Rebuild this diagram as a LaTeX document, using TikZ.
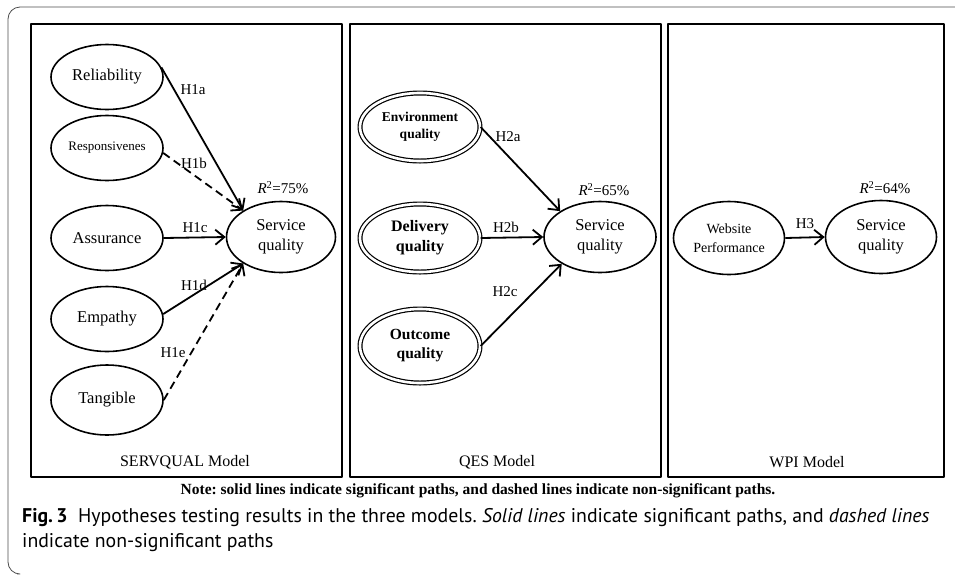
\documentclass[tikz,border=0pt]{standalone}
\usepackage{fontspec}
\setmainfont{Liberation Serif}
\newfontfamily\capfont{PT Sans}
\usetikzlibrary{shapes.geometric,arrows.meta}
\frenchspacing

\begin{document}
\begin{tikzpicture}[x=1pt, y=-1pt, line join=round, >={Straight Barb[length=9pt,width=15pt]},
  lat/.style={ellipse, draw, line width=1.6pt, minimum width=112pt, minimum height=65pt, inner sep=0pt, align=center, font=\fontsize{16.5}{20}\selectfont},
  dlat/.style={lat, double, double distance=2.6pt, line width=1.2pt, minimum width=120pt, minimum height=68pt, font=\bfseries\fontsize{15.5}{19}\selectfont},
  sig/.style={->, line width=1.8pt},
  nsig/.style={sig, dash pattern=on 8pt off 5pt},
  hyp/.style={inner sep=0pt, font=\fontsize{15}{18}\selectfont},
  panel/.style={draw, line width=1.8pt}]
\useasboundingbox (0,0) rectangle (955,574);
% journal frame
\draw[gray!60!black, line width=0.8pt, rounded corners=12pt] (955,7) -- (8,7) -- (8,574) -- (17,574);
% panels
\draw[panel] (31,24) rectangle (342,477) (350,24) rectangle (661,477) (668,24) rectangle (944,477);
\node[hyp, font=\fontsize{16}{19}\selectfont] (m1) at (185,462) {SERVQUAL Model};
\node[hyp, font=\fontsize{16}{19}\selectfont] (m2) at (497,462) {QES Model};
\node[hyp, font=\fontsize{16}{19}\selectfont] (m3) at (807,462) {WPI Model};
% SERVQUAL model
\node[lat] (rel) at (107,77) {Reliability};
\node[lat, font=\fontsize{13}{16}\selectfont] (res) at (107,148) {Responsivenes};
\node[lat] (asr) at (107,238) {Assurance};
\node[lat] (emp) at (107,319) {Empathy};
\node[lat, minimum height=70pt] (tan) at (107,400) {Tangible};
\node[lat, minimum width=109pt, minimum height=71pt] (sq1) at (281,237) {Service\\quality};
\node[hyp] (r1) at (283,188) {\textit{R}\textsuperscript{2}=75\%};
\draw[sig] (rel.10) -- (sq1.145);
\draw[nsig] (res.-5) -- (sq1.145);
\draw[sig] (asr.east) -- (sq1.west);
\draw[sig] (emp.5) -- (sq1.215);
\draw[nsig] (tan.east) -- (sq1.215);
\node[hyp] (h1a) at (193,90) {H1a};
\node[hyp] (h1b) at (194,163) {H1b};
\node[hyp] (h1c) at (195,228) {H1c};
\node[hyp] (h1d) at (194,285) {H1d};
\node[hyp] (h1e) at (173,353) {H1e};
% QES model
\node[dlat, font=\bfseries\fontsize{13.5}{17}\selectfont] (env) at (420,127) {Environment\\quality};
\node[dlat, font=\bfseries\fontsize{16}{20}\selectfont] (del) at (420,238) {Delivery\\quality};
\node[dlat, minimum height=74pt] (out) at (420,346) {Outcome\\quality};
\node[lat, minimum width=112pt, minimum height=71pt] (sq2) at (600,237) {Service\\quality};
\node[hyp] (r2) at (604,190) {\textit{R}\textsuperscript{2}=65\%};
\draw[sig] (env.east) -- (sq2.147);
\draw[sig] (del.east) -- (sq2.west);
\draw[sig] (out.east) -- (sq2.215);
\node[hyp] (h2a) at (508,137) {H2a};
\node[hyp] (h2b) at (506,227) {H2b};
\node[hyp] (h2c) at (505,292) {H2c};
% WPI model
\node[lat, minimum width=111pt, minimum height=73pt, font=\fontsize{14}{19}\selectfont] (web) at (729,238) {Website\\Performance};
\node[lat, minimum width=111pt, minimum height=73pt] (sq3) at (881,237) {Service\\quality};
\node[hyp] (r3) at (885,188) {\textit{R}\textsuperscript{2}=64\%};
\draw[sig] (web.east) -- (sq3.west);
\node[hyp] (h3) at (805,224) {H3};
% note and caption
\node[inner sep=0pt, font=\bfseries\fontsize{15.5}{18}\selectfont] (note) at (478,491) {Note: solid lines indicate significant paths, and dashed lines indicate non-significant paths.};
\node[inner sep=0pt, anchor=north west, align=left, font=\capfont\fontsize{19.8}{25}\selectfont] (cap) at (22,508) {\textbf{Fig.\,3}\ \ Hypotheses testing results in the three models. \textit{Solid lines} indicate significant paths, and \textit{dashed lines}\\indicate non-significant paths};
\end{tikzpicture}
\end{document}
